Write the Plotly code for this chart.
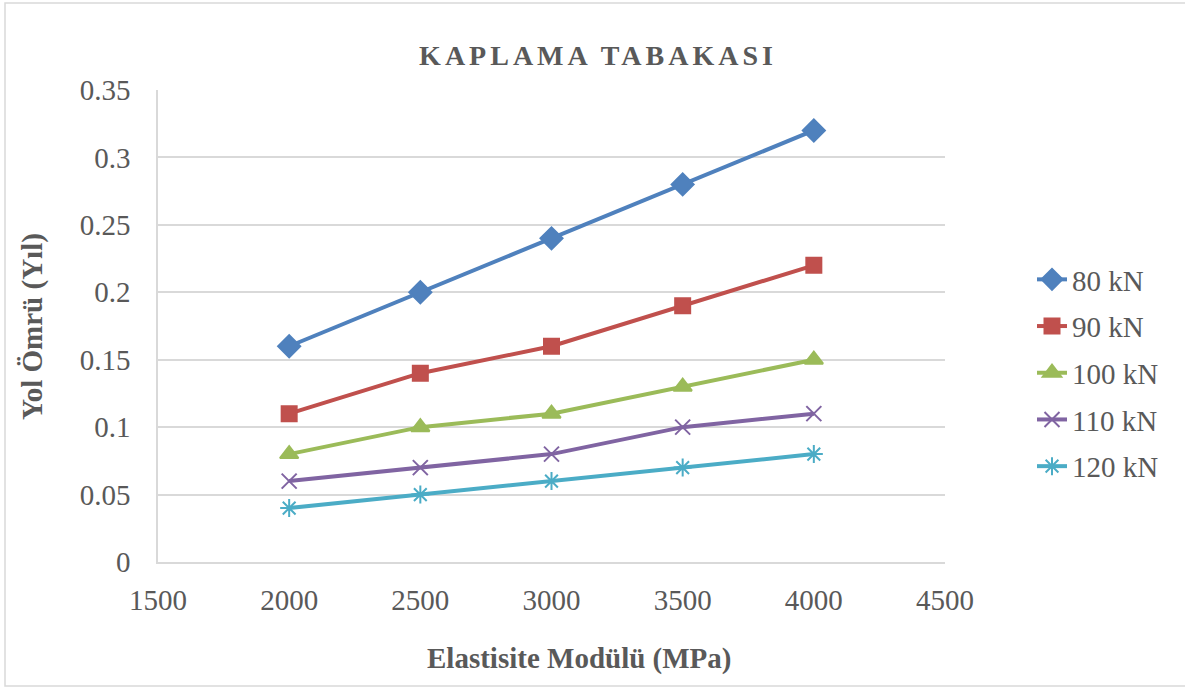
import plotly.graph_objects as go

# Elastic modulus (MPa) and road life (years) per axle load
modulus = [2000, 2500, 3000, 3500, 4000]
load_labels = ["80 kN", "90 kN", "100 kN", "110 kN", "120 kN"]
life_80 = [0.16, 0.20, 0.24, 0.28, 0.32]
life_90 = [0.11, 0.14, 0.16, 0.19, 0.22]
life_100 = [0.08, 0.10, 0.11, 0.13, 0.15]
life_110 = [0.06, 0.07, 0.08, 0.10, 0.11]
life_120 = [0.04, 0.05, 0.06, 0.07, 0.08]

series = [life_80, life_90, life_100, life_110, life_120]
colors = ["#4F81BD", "#C0504D", "#9BBB59", "#8064A2", "#4BACC6"]
symbols = ["diamond", "square", "triangle-up", "x-thin-open", "asterisk-open"]
sizes = [17, 15, 16, 15, 15]

FONT = "Liberation Serif, Times New Roman, serif"
TXT = "#595959"
GRID = "#D9D9D9"

fig = go.Figure()
for name, vals, col, sym, sz in zip(load_labels, series, colors, symbols, sizes):
    fig.add_trace(go.Scatter(
        x=modulus, y=vals, name=name, mode="lines+markers",
        legendgroup=name,
        line=dict(color=col, width=4),
        marker=dict(symbol=sym, size=sz, color=col,
                    line=dict(color=col, width=2)),
    ))

# plot area spans 158..945 px horizontally, 90..562 px vertically
L, R, T, B = 158, 240, 90, 126
W, H = 1185, 688
pw, ph = W - L - R, H - T - B

def px_x(p):
    return (p - L) / pw

def px_y(p):
    return (H - B - p) / ph

fig.update_layout(
    width=W, height=H,
    margin=dict(l=L, r=R, t=T, b=B),
    paper_bgcolor="white", plot_bgcolor="white",
    font=dict(family=FONT, color=TXT, size=29),
    title=dict(text="<b>KAPLAMA TABAKASI</b>", x=598 / W, xref="container",
               xanchor="center", y=1 - 55 / H, yref="container",
               yanchor="middle",
               font=dict(family=FONT, size=28, color=TXT)),
    xaxis=dict(range=[1500, 4500], dtick=500, showgrid=False,
               showline=True, linecolor=GRID, linewidth=1.5,
               ticks="", zeroline=False, ticklabelstandoff=11,
               tickfont=dict(size=29, color=TXT)),
    yaxis=dict(range=[0, 0.35], dtick=0.05, showgrid=True,
               gridcolor=GRID, gridwidth=1.5, showline=True,
               linecolor=GRID, linewidth=1.5, ticks="", zeroline=False,
               ticklabelstandoff=20, tickformat="~g",
               tickfont=dict(size=29, color=TXT)),
    legend=dict(x=px_x(1032), xanchor="left", y=px_y(373), yanchor="middle",
                font=dict(size=29, color=TXT), tracegroupgap=6,
                bgcolor="rgba(0,0,0,0)", itemwidth=30),
    showlegend=True,
    annotations=[
        dict(text="<b>Elastisite Modülü (MPa)</b>", xref="paper", yref="paper",
             x=px_x(579), y=px_y(658), xanchor="center", yanchor="middle",
             showarrow=False, font=dict(family=FONT, size=29, color=TXT)),
        dict(text="<b>Yol Ömrü (Yıl)</b>", xref="paper", yref="paper",
             x=px_x(32), y=px_y(326), xanchor="center", yanchor="middle",
             textangle=-90, showarrow=False,
             font=dict(family=FONT, size=29, color=TXT)),
    ],
    shapes=[
        dict(type="rect", xref="paper", yref="paper",
             x0=px_x(5), x1=px_x(1195), y0=px_y(686), y1=px_y(3),
             line=dict(color=GRID, width=1.5), layer="below"),
    ],
)

post = """
(function(){
  function sp(){
    var t = document.querySelectorAll('.gtitle');
    t.forEach(function(e){ e.style.letterSpacing = '4px'; });
  }
  sp(); setTimeout(sp, 30); setTimeout(sp, 300);
})();
"""

fig.write_html("out.html", post_script=post)
